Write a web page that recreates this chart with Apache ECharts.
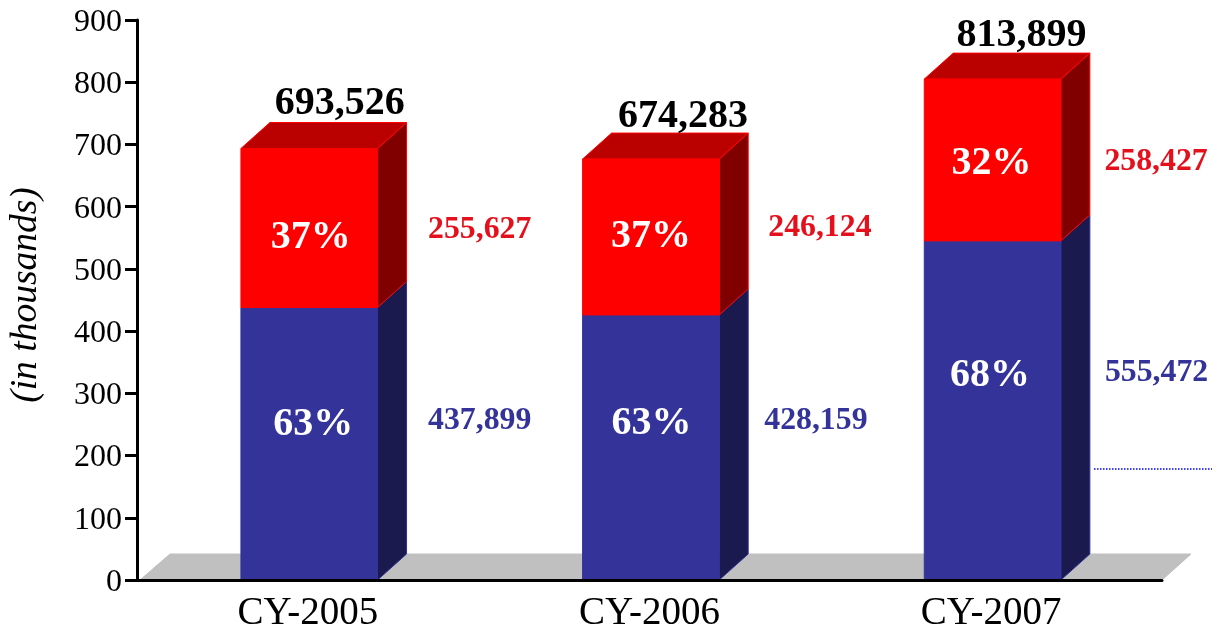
<!DOCTYPE html>
<html>
<head>
<meta charset="utf-8">
<style>html,body{margin:0;padding:0;background:#fff}#c{width:1212px;height:628px}</style>
<script src="https://cdn.jsdelivr.net/npm/echarts@6/dist/echarts.min.js"></script>
</head>
<body>
<div id="c"></div>
<script>
// Data
const categories = ['CY-2005', 'CY-2006', 'CY-2007'];
const tickLabels = ['0','100','200','300','400','500','600','700','800','900'];
// Segment heights as drawn in the picture (thousands)
const blueHeights = [437.9, 426, 545];
const redHeights = [255.6, 250.5, 260];
// Printed labels
const blueLabels = ['437,899', '428,159', '555,472'];
const redLabels = ['255,627', '246,124', '258,427'];
const totalLabels = ['693,526', '674,283', '813,899'];
const bluePct = ['63%', '63%', '68%'];
const redPct = ['37%', '37%', '32%'];

// Layout (pixels, relative to the bar's centre / its segment)
const depthX = 29, depthY = 26, halfBar = 68.3, barNudge = 1.4;
const totalOff = [[30.5, -19], [32, -16], [29, -17]];
const redSideOff = [[170.5, 2], [169, -9], [163.5, 2]];
const blueSideOff = [[170.5, -23], [165, -27], [164, -38]];
const redPctOff = [[1.5, 10], [0, 0], [-1, 4]];
const bluePctOff = [[4, -19], [0.5, -24], [-2.5, -35]];

const SERIF = '"Liberation Serif","Times New Roman",serif';
function label(text, x, y, size, fill) {
  return { type: 'text', z2: 10, style: { text, x, y, fill, align: 'center', verticalAlign: 'middle',
    font: 'bold ' + size + 'px ' + SERIF } };
}
function poly(points, fill, stroke) {
  return { type: 'polygon', shape: { points }, style: { fill, stroke: stroke || fill, lineWidth: 1 } };
}
function renderBar(params, api) {
  const i = api.value(0);
  const base = api.coord([i, 0]);
  const mid = api.coord([i, blueHeights[i]]);
  const top = api.coord([i, blueHeights[i] + redHeights[i]]);
  const cx = base[0] + barNudge, l = cx - halfBar, r = cx + halfBar;
  const y0 = base[1], y1 = mid[1], y2 = top[1];
  const rx = r + depthX, dy = depthY;
  const redC = (y1 + y2) / 2, blueC = (y0 + y1) / 2;
  return { type: 'group', children: [
    poly([[r, y0], [rx, y0 - dy], [rx, y1 - dy], [r, y1]], '#1A1A4F', '#333399'),
    poly([[r, y1], [rx, y1 - dy], [rx, y2 - dy], [r, y2]], '#800000', '#FF0000'),
    poly([[l, y2], [l + depthX, y2 - dy], [rx, y2 - dy], [r, y2]], '#BB0000', '#FF0000'),
    poly([[l, y0], [r, y0], [r, y1], [l, y1]], '#333399'),
    poly([[l, y1], [r, y1], [r, y2], [l, y2]], '#FF0000'),
    label(redPct[i], cx + redPctOff[i][0], redC + redPctOff[i][1], 40, '#FFFFFF'),
    label(bluePct[i], cx + bluePctOff[i][0], blueC + bluePctOff[i][1], 40, '#FFFFFF'),
    label(redLabels[i], cx + redSideOff[i][0], redC + redSideOff[i][1], 31.8, '#E4101C'),
    label(blueLabels[i], cx + blueSideOff[i][0], blueC + blueSideOff[i][1], 31.8, '#333399'),
    label(totalLabels[i], cx + totalOff[i][0], y2 - dy + totalOff[i][1], 40, '#000000')
  ] };
}
function renderFloor(params) {
  const c = params.coordSys, b = c.y + c.height;
  return poly([[c.x + 3, b], [c.x + 3 + 30, b - depthY], [c.x + c.width + 29, b - depthY], [c.x + c.width, b]], '#C0C0C0');
}

const chart = echarts.init(document.getElementById('c'), null, { renderer: 'canvas' });
chart.setOption({
  animation: false,
  backgroundColor: '#fff',
  textStyle: { fontFamily: SERIF },
  grid: { left: 137, right: 50, top: 20, bottom: 48, containLabel: false, outerBoundsMode: 'none' },
  xAxis: {
    type: 'category', data: categories, z: 5,
    axisLine: { lineStyle: { color: '#000', width: 3 } },
    axisTick: { show: false },
    axisLabel: { color: '#000', fontSize: 39, fontFamily: SERIF, margin: 14 }
  },
  yAxis: {
    type: 'value', min: 0, max: 900, interval: 100, z: 5,
    name: '(in thousands)', nameLocation: 'middle', nameRotate: 90, nameGap: 92,
    nameTextStyle: { color: '#000', fontSize: 37.5, fontStyle: 'italic', fontFamily: SERIF, padding: [0, 0, 0, 10] },
    axisLine: { show: true, lineStyle: { color: '#000', width: 3 } },
    axisTick: { show: true, length: 12, lineStyle: { color: '#000', width: 3 } },
    splitLine: { show: false },
    axisLabel: { color: '#000', margin: 15,
      formatter: (v) => '{t|' + tickLabels[v / 100] + '}',
      rich: { t: { color: '#000', fontSize: 32, fontFamily: SERIF, padding: [5, 0, 0, 0] } } }
  },
  series: [
    { type: 'custom', z: 1, silent: true, renderItem: renderFloor, data: [[0]], encode: { x: 0 }, clip: false },
    { type: 'custom', z: 2, silent: true, renderItem: renderBar, data: categories.map((c, i) => [i]), encode: { x: 0 }, clip: false }
  ],
  graphic: [{ type: 'line', silent: true, shape: { x1: 1094, y1: 469, x2: 1212, y2: 469 },
    style: { stroke: '#0000FF', lineWidth: 1.5, lineDash: [1.5, 1.5] } }]
});
</script>
</body>
</html>
